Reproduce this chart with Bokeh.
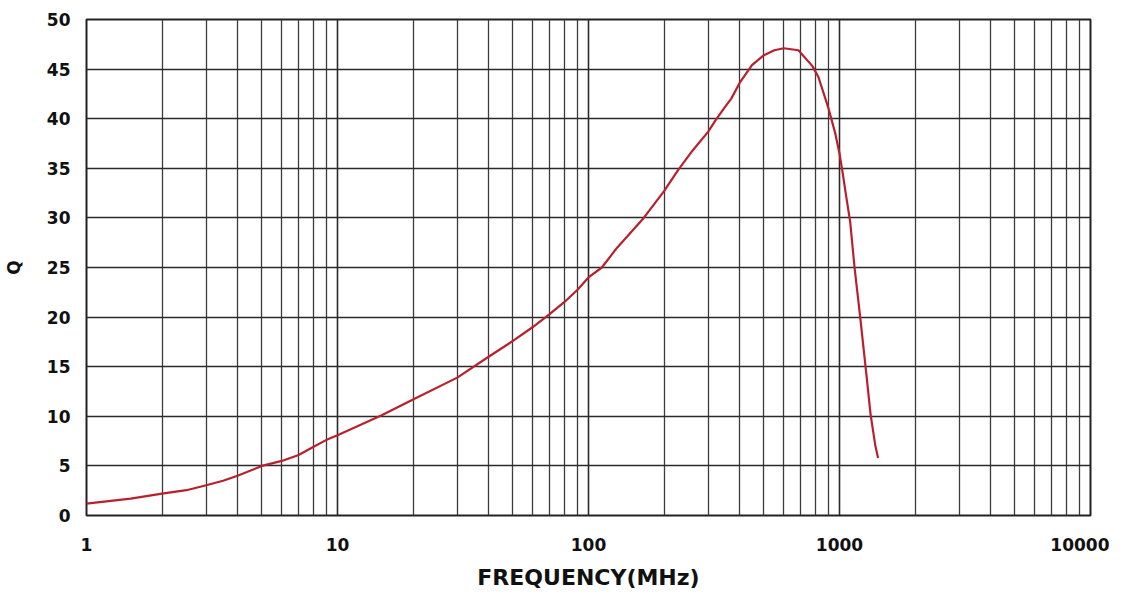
from bokeh.plotting import figure
from bokeh.models import FixedTicker, Range1d
from bokeh.embed import file_html
from bokeh.resources import INLINE

# Data
freq_mhz = [1, 1.5, 2, 2.5, 3, 3.5, 4, 5, 6, 7, 8, 9, 10, 15, 20, 30, 40, 50, 60, 70, 80, 90,
            100, 113, 130, 166, 200, 227, 260, 300, 320, 350, 370, 400, 448, 500, 550, 600,
            686, 780, 824, 900, 960, 1000, 1030, 1060, 1103, 1148, 1209, 1275, 1330, 1390, 1425]
q_values = [1.2, 1.7, 2.2, 2.55, 3.05, 3.5, 4.0, 5.0, 5.5, 6.1, 6.9, 7.6, 8.1, 10.1, 11.7, 13.9, 16.0, 17.6, 19.0, 20.3, 21.5, 22.7,
            24.0, 25.0, 27.0, 30.0, 32.7, 34.8, 36.8, 38.7, 39.8, 41.2, 42.0, 43.6, 45.4, 46.4, 46.9, 47.1,
            46.9, 45.3, 44.2, 41.2, 38.6, 36.5, 34.5, 32.4, 29.6, 25.0, 20.0, 14.6, 10.2, 7.0, 5.8]

x_major_ticks = [1, 10, 100, 1000, 10000]
x_minor_ticks = [m * 10 ** k for k in range(4) for m in range(2, 10)]
x_tick_labels = ["1", "10", "100", "1000", "10000"]
y_ticks = [0, 5, 10, 15, 20, 25, 30, 35, 40, 45, 50]

FONT = "DejaVu Sans"

p = figure(frame_width=1004, frame_height=496,
           x_axis_type="log", x_range=Range1d(1, 10000), y_range=Range1d(0, 50),
           output_backend="svg", toolbar_location=None,
           min_border_left=82, min_border_right=19, min_border_top=19, min_border_bottom=72,
           background_fill_color="white", border_fill_color="white")

p.outline_line_color = "#222222"
p.outline_line_width = 2

xt = FixedTicker(ticks=x_major_ticks, minor_ticks=x_minor_ticks)
p.xaxis.ticker = xt
p.xgrid.ticker = xt
p.xaxis.major_label_overrides = {float(t): s for t, s in zip(x_major_ticks, x_tick_labels)}
yt = FixedTicker(ticks=y_ticks)
p.yaxis.ticker = yt
p.ygrid.ticker = yt

for ax in (p.xaxis[0], p.yaxis[0]):
    ax.axis_line_color = None
    ax.major_tick_line_color = None
    ax.minor_tick_line_color = None
    ax.major_tick_out = 0
    ax.major_tick_in = 0
    ax.minor_tick_out = 0
    ax.major_label_text_font = FONT
    ax.major_label_text_font_style = "bold"
    ax.major_label_text_font_size = "17px"
    ax.major_label_text_color = "#111111"
    ax.axis_label_text_font = FONT
    ax.axis_label_text_font_style = "bold"
    ax.axis_label_text_color = "#111111"

p.xaxis.axis_label = "FREQUENCY(MHz)"
p.xaxis.axis_label_text_font_size = "22px"
p.xaxis.major_label_standoff = 22
p.xaxis.axis_label_standoff = 11

p.yaxis.axis_label = "Q"
p.yaxis.axis_label_text_font_size = "17px"
p.yaxis.major_label_standoff = 16
p.yaxis.axis_label_standoff = 20

p.xgrid.grid_line_color = "#2a2a2a"
p.xgrid.grid_line_width = 1.6
p.xgrid.minor_grid_line_color = "#3c3c3c"
p.xgrid.minor_grid_line_width = 1.3
p.ygrid.grid_line_color = "#2a2a2a"
p.ygrid.grid_line_width = 1.6

p.line(freq_mhz, q_values, line_color="#b8202e", line_width=2.2, line_join="round")

open("out.html", "w").write(file_html(p, INLINE))
